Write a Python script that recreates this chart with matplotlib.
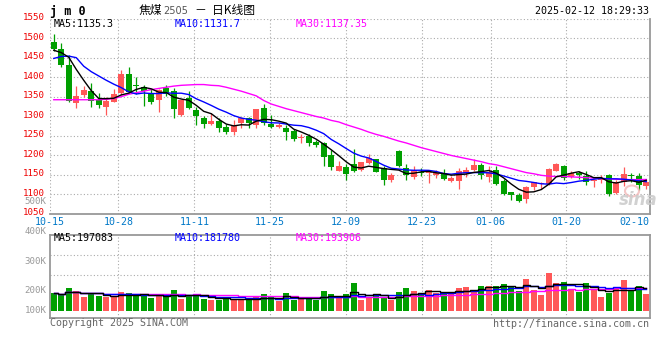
import matplotlib
matplotlib.use("Agg")
import matplotlib.pyplot as plt
import numpy as np
import pandas as pd
from matplotlib.transforms import ScaledTranslation
from matplotlib.patches import Ellipse

# ---------------- data ----------------
dates = ["10-15", "10-16", "10-17", "10-18", "10-21", "10-22", "10-23", "10-24", "10-25", "10-28",
         "10-29", "10-30", "10-31", "11-01", "11-04", "11-05", "11-06", "11-07", "11-08", "11-11",
         "11-12", "11-13", "11-14", "11-15", "11-18", "11-19", "11-20", "11-21", "11-22", "11-25",
         "11-26", "11-27", "11-28", "11-29", "12-02", "12-03", "12-04", "12-05", "12-06", "12-09",
         "12-10", "12-11", "12-12", "12-13", "12-16", "12-17", "12-18", "12-19", "12-20", "12-23",
         "12-24", "12-25", "12-26", "12-27", "12-30", "12-31", "01-02", "01-03", "01-06", "01-07",
         "01-08", "01-09", "01-10", "01-13", "01-14", "01-15", "01-16", "01-17", "01-20", "01-21",
         "01-22", "01-23", "01-24", "01-27", "02-05", "02-06", "02-07", "02-10", "02-11", "02-12"]

opens = [1489, 1473, 1430, 1334, 1354, 1364, 1342, 1324, 1337, 1359,
         1409, 1381, 1375, 1360, 1342, 1373, 1364, 1303, 1347, 1316,
         1294, 1281, 1287, 1273, 1260, 1283, 1294, 1277, 1322, 1281,
         1273, 1269, 1262, 1245, 1248, 1233, 1231, 1200, 1159, 1170,
         1176, 1161, 1180, 1189, 1166, 1136, 1211, 1166, 1143, 1157,
         1153, 1150, 1153, 1134, 1134, 1153, 1162, 1174, 1144, 1162,
         1133, 1104, 1097, 1087, 1119, 1125, 1126, 1160, 1172, 1143,
         1155, 1146, 1133, 1135, 1149, 1102, 1132, 1150, 1145, 1120]
highs = [1510, 1488, 1458, 1378, 1378, 1384, 1359, 1350, 1369, 1418,
         1427, 1400, 1380, 1369, 1369, 1381, 1373, 1341, 1364, 1323,
         1301, 1307, 1294, 1281, 1290, 1298, 1298, 1319, 1330, 1304,
         1283, 1277, 1268, 1255, 1254, 1239, 1233, 1214, 1186, 1178,
         1215, 1182, 1202, 1189, 1172, 1155, 1212, 1176, 1172, 1166,
         1161, 1161, 1163, 1146, 1166, 1170, 1190, 1179, 1172, 1172,
         1138, 1106, 1102, 1121, 1132, 1131, 1167, 1180, 1175, 1160,
         1160, 1160, 1139, 1148, 1151, 1135, 1170, 1155, 1153, 1138]
lows = [1468, 1425, 1337, 1320, 1350, 1323, 1320, 1303, 1335, 1354,
        1359, 1356, 1326, 1332, 1310, 1352, 1296, 1300, 1317, 1277,
        1269, 1277, 1260, 1254, 1252, 1269, 1269, 1270, 1277, 1269,
        1269, 1239, 1235, 1230, 1223, 1221, 1173, 1162, 1159, 1136,
        1157, 1159, 1178, 1157, 1122, 1132, 1170, 1136, 1138, 1145,
        1129, 1140, 1136, 1132, 1114, 1143, 1158, 1139, 1130, 1124,
        1097, 1085, 1080, 1078, 1110, 1112, 1124, 1158, 1137, 1140,
        1139, 1123, 1118, 1128, 1095, 1100, 1121, 1132, 1110, 1113]
closes = [1472, 1431, 1339, 1351, 1366, 1340, 1329, 1338, 1356, 1409,
          1363, 1376, 1365, 1337, 1366, 1358, 1317, 1341, 1321, 1301,
          1281, 1287, 1269, 1260, 1277, 1296, 1283, 1319, 1283, 1273,
          1277, 1258, 1241, 1247, 1231, 1226, 1194, 1170, 1172, 1151,
          1159, 1182, 1193, 1157, 1135, 1149, 1173, 1148, 1162, 1153,
          1155, 1154, 1139, 1141, 1160, 1162, 1175, 1149, 1156, 1126,
          1100, 1097, 1082, 1119, 1130, 1129, 1165, 1178, 1141, 1154,
          1148, 1130, 1137, 1142, 1100, 1132, 1152, 1145, 1122, 1130]

ma5 = [1469, 1463, 1451, 1420, 1391.8, 1365.4, 1345.0, 1344.8, 1345.8, 1354.4,
       1359.0, 1368.4, 1373.8, 1370.0, 1361.4, 1360.4, 1348.6, 1343.8, 1340.6, 1327.6,
       1312.2, 1306.2, 1291.8, 1279.6, 1274.8, 1277.8, 1277.0, 1287.0, 1291.6, 1290.8,
       1287.0, 1282.0, 1266.4, 1259.2, 1250.8, 1240.6, 1227.8, 1213.6, 1198.6, 1182.6,
       1169.2, 1166.8, 1171.4, 1168.4, 1165.2, 1163.2, 1161.4, 1152.4, 1153.4, 1157.0,
       1158.2, 1154.4, 1152.6, 1148.4, 1149.8, 1151.2, 1155.4, 1157.4, 1160.4, 1153.6,
       1141.2, 1125.6, 1112.2, 1104.8, 1105.6, 1111.4, 1125.0, 1144.2, 1148.6, 1153.4,
       1157.2, 1150.2, 1142.0, 1142.2, 1131.4, 1128.2, 1132.6, 1134.2, 1130.2, 1135.3]
ma10 = [1448, 1453, 1454, 1450, 1428, 1414, 1403, 1392, 1382, 1373.1,
        1362.2, 1356.7, 1359.3, 1357.9, 1357.9, 1359.7, 1358.5, 1358.8, 1355.3, 1344.5,
        1336.3, 1327.4, 1317.8, 1310.1, 1301.2, 1295.0, 1291.6, 1289.4, 1285.6, 1282.8,
        1282.4, 1279.5, 1276.7, 1275.4, 1270.8, 1263.8, 1254.9, 1240.0, 1228.9, 1216.7,
        1204.9, 1197.3, 1192.5, 1183.5, 1173.9, 1166.2, 1164.1, 1161.9, 1160.9, 1161.1,
        1160.7, 1157.9, 1152.5, 1150.9, 1153.4, 1154.7, 1154.9, 1155.0, 1154.4, 1151.7,
        1146.2, 1140.5, 1134.8, 1132.6, 1129.6, 1126.3, 1125.3, 1128.2, 1126.7, 1129.5,
        1133.0, 1135.0, 1138.0, 1140.0, 1139.0, 1139.0, 1138.0, 1136.0, 1134.0, 1131.7]
ma30 = [1342, 1342, 1342, 1342, 1342, 1342, 1342, 1343, 1345, 1350,
        1356, 1360, 1364, 1368, 1371, 1374, 1377, 1379, 1380, 1381,
        1381, 1379, 1378, 1374, 1369, 1364, 1358, 1352, 1340, 1331,
        1325, 1319, 1314, 1309, 1304, 1299, 1295, 1289, 1285, 1278,
        1272, 1266, 1259, 1253, 1248, 1242, 1236, 1231, 1225, 1219,
        1214, 1209, 1204, 1199, 1195, 1191, 1187, 1183, 1178, 1175,
        1170, 1165, 1160, 1155, 1152, 1148, 1146, 1145, 1145, 1144,
        1143, 1142, 1141, 1140, 1139, 1138, 1137, 1137, 1137, 1137.35]

volumes = [148000, 142500, 194000, 168000, 120000, 140000, 128000, 120000, 125000, 160000,
           154000, 125000, 137000, 111000, 125000, 120000, 177000, 103000, 131000, 142500,
           100000, 91000, 91000, 117000, 91000, 91000, 91000, 125000, 142500, 114000,
           85500, 151000, 91000, 105000, 111000, 91000, 168000, 142500, 105000, 142500,
           239000, 91000, 114000, 131000, 105000, 91000, 160000, 194000, 168000, 148000,
           177000, 154000, 160000, 142500, 194000, 202000, 177000, 211000, 211000, 211000,
           228000, 211000, 168000, 271000, 177000, 134000, 325000, 239000, 245000, 185000,
           160000, 237000, 177000, 117000, 151000, 194000, 262000, 177000, 211000, 142500]

tick_labels = ["10-15", "10-28", "11-11", "11-25", "12-09", "12-23", "01-06", "01-20", "02-10"]
grid_labels = ["10-15", "10-28", "11-11", "11-25", "12-09", "12-23", "01-06", "01-20"]
price_ticks = [1050, 1100, 1150, 1200, 1250, 1300, 1350, 1400, 1450, 1500, 1550]
vol_labels = ["500K", "400K", "300K", "200K", "100K"]

ma_price_text = ["MA5:1135.3", "MA10:1131.7", "MA30:1137.35"]
ma_vol_text = ["MA5:197083", "MA10:181780", "MA30:193906"]

# ---------------- style ----------------
W, H = 660, 360
RED = "#FF5858"
GREEN = "#009F00"
GRID = "#AAAAAA"
BORDER = "#999999"
MONO = "DejaVu Sans Mono"
CJK = ["Noto Sans CJK SC", "DejaVu Sans"]
DOT = (0, (1, 2))

fig = plt.figure(figsize=(W / 100, H / 100), dpi=100)
fig.patch.set_facecolor("white")


def fx(x):
    return x / W


def fy(y):
    return 1 - y / H


ax = fig.add_axes([fx(50), fy(213.5), 600 / W, (213.5 - 18.7) / H])
ax2 = fig.add_axes([fx(50), fy(317.7), 600 / W, 83 / H])

n = len(dates)
x = np.arange(n)
o = np.array(opens, float)
c = np.array(closes, float)
hi = np.array(highs, float)
lo = np.array(lows, float)
up = c >= o
colors = np.where(up, RED, GREEN)

tick_pos = [dates.index(d) * n / (n - 1) - 0.5 for d in tick_labels]
grid_pos = [dates.index(d) * n / (n - 1) - 0.5 for d in grid_labels]

# ---- main panel ----
ax.set_xlim(-0.5, n - 0.5)
ax.set_ylim(1050, 1550)
for yv in price_ticks[1:]:
    ax.axhline(yv, color=GRID, lw=0.8, ls=DOT, zorder=0)
for xp in grid_pos:
    ax.axvline(xp, color=GRID, lw=0.8, ls=DOT, zorder=0)

ax.vlines(x, lo, hi, colors=colors, lw=0.9, zorder=2)
body_lo = np.minimum(o, c)
body_h = np.maximum(np.abs(c - o), 2.5)
ax.bar(x, body_h, bottom=body_lo, width=0.8, color=colors, linewidth=0, zorder=3)

ax.plot(x, ma30, color="#FF00FF", lw=1.0, zorder=4)
ax.plot(x, ma10, color="#0000FF", lw=1.0, zorder=4)
ax.plot(x, ma5, color="black", lw=1.0, zorder=5)

for side in ["top", "left"]:
    ax.spines[side].set_visible(False)
for side in ["bottom", "right"]:
    ax.spines[side].set_color(BORDER)
    ax.spines[side].set_linewidth(1.3)

ax.set_yticks(price_ticks)
ax.set_yticklabels([str(v) for v in price_ticks], color="#EE0000", fontfamily=MONO, fontsize=6.6)
ax.tick_params(axis="y", length=0, pad=4)
for lab in ax.get_yticklabels():
    lab.set_transform(lab.get_transform() + ScaledTranslation(0, 2 / 100, fig.dpi_scale_trans))
ax.set_xticks(tick_pos)
ax.set_xticklabels(tick_labels, color="#0078C8", fontfamily=MONO, fontsize=7.2)
ax.tick_params(axis="x", length=0, pad=2.5)

# ---- volume panel ----
vol = np.array(volumes, float)
ax2.set_xlim(-0.5, n - 0.5)
px_k = 8540.0
ax2.set_ylim(-7 * px_k, 76 * px_k)
for f in [(317.7 - 255) / 83, (317.7 - 275) / 83]:
    ax2.plot([0, 1], [f, f], transform=ax2.transAxes, color=GRID, lw=0.8, ls=DOT, zorder=0)
for xp in grid_pos[1:]:
    ax2.axvline(xp, color=GRID, lw=0.8, ls=DOT, zorder=0)
ax2.bar(x, vol, width=0.8, color=colors, linewidth=0, zorder=2)
vs = pd.Series(vol)
ax2.plot(x, vs.rolling(30, min_periods=1).mean(), color="#FF00FF", lw=1.0, drawstyle="steps-mid", zorder=3)
ax2.plot(x, vs.rolling(10, min_periods=1).mean(), color="#0000FF", lw=1.0, drawstyle="steps-mid", zorder=3)
ax2.plot(x, vs.rolling(5, min_periods=1).mean(), color="black", lw=1.0, drawstyle="steps-mid", zorder=4)
ax2.set_xticks([])
ax2.set_yticks([])
for side in ax2.spines:
    ax2.spines[side].set_color(BORDER)
    ax2.spines[side].set_linewidth(1.3)

# ---- texts ----
fig.text(fx(50), fy(11), "j m 0", fontfamily=MONO, fontweight="bold", fontsize=8.5,
         color="black", ha="left", va="center")
fig.text(fx(139), fy(10.5), "焦煤", family=CJK, fontsize=8.5, color="black", ha="left", va="center")
fig.text(fx(163), fy(11), "2505", fontfamily="DejaVu Sans", fontsize=7, color="#555555",
         ha="left", va="center")
fig.text(fx(195), fy(10.5), "－  日K线图", family=CJK, fontsize=8.5, color="black",
         ha="left", va="center")
fig.text(fx(649), fy(11.5), "2025-02-12 18:29:33", fontfamily=MONO, fontsize=7.2,
         color="black", ha="right", va="center")

ma_cols = ["black", "#0000FF", "#FF00FF"]
ma_x = [54, 175, 296]
for s, col, xx in zip(ma_price_text, ma_cols, ma_x):
    fig.text(fx(xx), fy(24), s, fontfamily=MONO, fontsize=7.2, color=col, ha="left", va="center")
for s, col, xx in zip(ma_vol_text, ma_cols, ma_x):
    fig.text(fx(xx), fy(237.8), s, fontfamily=MONO, fontsize=7.2, color=col, ha="left", va="center")

vol_label_y = [201.8, 231, 261, 290.7, 310.7]
for s, yy in zip(vol_labels, vol_label_y):
    fig.text(fx(46.5), fy(yy), s, fontfamily=MONO, fontsize=6.6, color="#999999",
             ha="right", va="center")

fig.text(fx(50), fy(323.5), "Copyright 2025 SINA.COM", fontfamily=MONO, fontsize=7.2,
         color="#666666", ha="left", va="center")
fig.text(fx(649), fy(324), "http://finance.sina.com.cn", fontfamily=MONO, fontsize=7.2,
         color="#666666", ha="right", va="center")

# sina watermark
fig.patches.append(Ellipse((fx(632), fy(191)), 14 / W, 11 / H, transform=fig.transFigure,
                           facecolor="none", edgecolor="#F2B8B8", lw=1.5, alpha=0.8))
fig.text(fx(619), fy(200), "sina", fontfamily="DejaVu Sans", fontstyle="italic",
         fontweight="bold", fontsize=12, color="#CCCCCC", ha="left", va="center", alpha=0.9)

fig.savefig("out.png", dpi=100, facecolor="white")
